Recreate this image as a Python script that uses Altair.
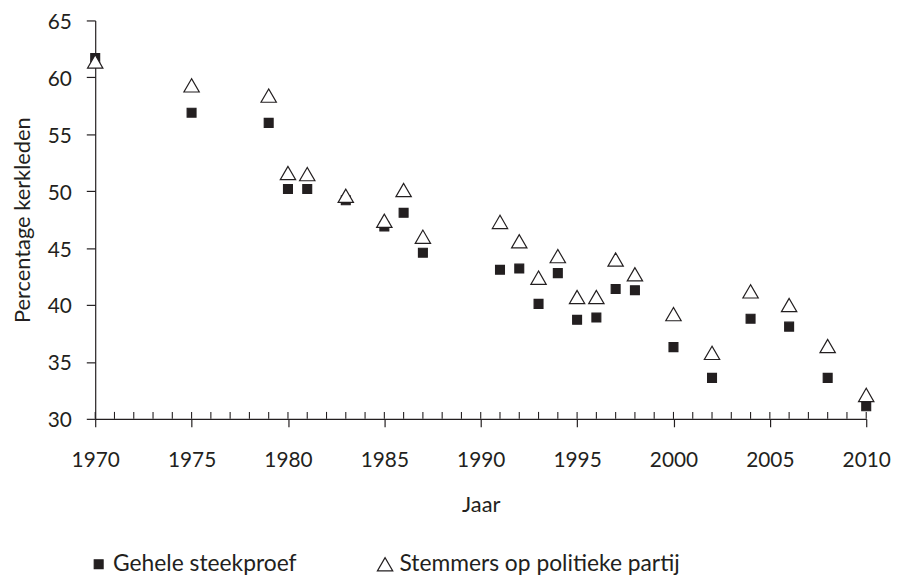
import altair as alt
import pandas as pd

# ---- data ----
years = [1970, 1975, 1979, 1980, 1981, 1983, 1985, 1986, 1987, 1991, 1992, 1993,
         1994, 1995, 1996, 1997, 1998, 2000, 2002, 2004, 2006, 2008, 2010]
gehele = [61.7, 56.9, 56.0, 50.2, 50.2, 49.2, 46.9, 48.1, 44.6, 43.1, 43.2, 40.1,
          42.8, 38.7, 38.9, 41.4, 41.3, 36.3, 33.6, 38.8, 38.1, 33.6, 31.1]
stemmers = [61.4, 59.3, 58.4, 51.6, 51.5, 49.6, 47.4, 50.1, 46.0, 47.3, 45.6, 42.4,
            44.3, 40.7, 40.7, 44.0, 42.7, 39.2, 35.8, 41.2, 40.0, 36.4, 32.1]
series_names = ["Gehele steekproef", "Stemmers op politieke partij"]
x_ticks = list(range(1970, 2011, 5))
minor_years = list(range(1970, 2011))
y_ticks = list(range(30, 66, 5))

df = pd.DataFrame({
    "Jaar": years + years,
    "Percentage": gehele + stemmers,
    "Reeks": [series_names[0]] * len(years) + [series_names[1]] * len(years),
})
minor = pd.DataFrame({"Jaar": minor_years})

INK = "#231f20"
FONT = "Lato"

xscale = alt.Scale(domain=[1970, 2010], nice=False, zero=False)
yscale = alt.Scale(domain=[30, 65], nice=False, zero=False)

legend = alt.Legend(
    title=None, orient="none", legendX=-8, legendY=537, direction="horizontal",
    labelFont=FONT, labelFontSize=23, labelColor=INK, columnPadding=77,
    labelOffset=3, padding=0, labelLimit=0,
    symbolStrokeColor=INK, symbolStrokeWidth=1.2,
)

minor_ticks = alt.Chart(minor).mark_rule(color=INK, strokeWidth=1.1).encode(
    x=alt.X("Jaar:Q", scale=xscale),
    y=alt.value(395),
    y2=alt.value(402),
)

points = alt.Chart(df).mark_point(
    filled=True, opacity=1, strokeWidth=1.2
).encode(
    x=alt.X("Jaar:Q", scale=xscale,
            axis=alt.Axis(values=x_ticks, format="d", title="Jaar", tickSize=8,
                          labelFlush=False, labelPadding=23, titlePadding=24,
                          grid=False)),
    y=alt.Y("Percentage:Q", scale=yscale,
            axis=alt.Axis(values=y_ticks, title="Percentage kerkleden", tickSize=9,
                          labelPadding=15, labelOffset=2, titlePadding=13,
                          grid=False)),
    shape=alt.Shape("Reeks:N", scale=alt.Scale(domain=series_names,
                                               range=["square", "triangle-up"]),
                    legend=legend),
    fill=alt.Fill("Reeks:N", scale=alt.Scale(domain=series_names,
                                             range=[INK, "white"]),
                  legend=legend),
    stroke=alt.Stroke("Reeks:N", scale=alt.Scale(domain=series_names,
                                                 range=[INK, INK]),
                      legend=legend),
    size=alt.Size("Reeks:N", scale=alt.Scale(domain=series_names, range=[80, 240]),
                  legend=legend),
)

chart = alt.layer(minor_ticks, points).properties(
    width=778, height=402,
    padding={"left": 88, "top": 10, "right": 25, "bottom": 155},
    autosize="none",
    background="white",
).configure_view(stroke=None).configure_axis(
    domainColor=INK, tickColor=INK, domainWidth=1.2, tickWidth=1.2,
    labelFont=FONT, labelFontSize=21, labelColor=INK,
    titleFont=FONT, titleFontSize=22, titleFontWeight="normal", titleColor=INK,
)

chart.save("out.html", embed_options={"renderer": "svg", "actions": False})
